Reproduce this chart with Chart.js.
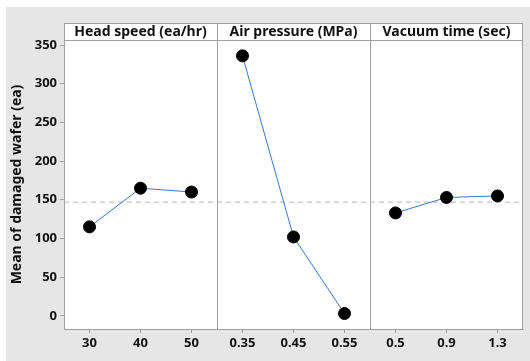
<!DOCTYPE html>
<html>
<head>
<meta charset="utf-8">
<script src="https://cdn.jsdelivr.net/npm/chart.js@4"></script>
<style>
	body { margin: 0; background: #fff; }
	.box { position: absolute; left: 6px; top: 7px; width: 524px; height: 354px; background: #e6e6e6; }
</style>
</head>
<body>
<div class="box"><canvas id="myChart" width="524" height="354"></canvas></div>
<script>
// main effects data
const factors = ['Head speed (ea/hr)', 'Air pressure (MPa)', 'Vacuum time (sec)'];
const headSpeedLevels = ['30', '40', '50'];
const headSpeedMeans = [115, 165, 160];
const airPressureLevels = ['0.35', '0.45', '0.55'];
const airPressureMeans = [336, 102, 3];
const vacuumLevels = ['0.5', '0.9', '1.3'];
const vacuumMeans = [133, 153, 155];
const overallMean = 147;
const yTicks = [0, 50, 100, 150, 200, 250, 300, 350];

const levels = [headSpeedLevels, airPressureLevels, vacuumLevels];
const means = [headSpeedMeans, airPressureMeans, vacuumMeans];
const tickLabels = [].concat(...levels);

const font = { family: 'Noto Sans', size: 13, weight: 'bold' };
const frameColor = '#a0a0a0';

const datasets = means.map((vals, p) => ({
	data: vals.map((v, i) => ({ x: p * 3 + i + 0.5, y: v })),
	borderColor: '#3c78c8',
	borderWidth: 1,
	pointRadius: 6,
	pointBackgroundColor: '#000',
	pointBorderColor: '#000',
	order: 1
}));
datasets.push({
	data: [{ x: 0, y: overallMean }, { x: 9, y: overallMean }],
	borderColor: '#b4b4b4',
	borderWidth: 1,
	borderDash: [5, 4],
	pointRadius: 0,
	order: 2
});

const panels = {
	id: 'panels',
	beforeDraw(chart) {
		const { ctx, chartArea: a } = chart;
		ctx.save();
		ctx.fillStyle = '#fff';
		ctx.fillRect(a.left, a.top - 17, a.right - a.left, a.bottom - a.top + 17);
		ctx.restore();
	},
	beforeDatasetsDraw(chart) {
		const { ctx, chartArea: a, scales: { x } } = chart;
		ctx.save();
		ctx.strokeStyle = frameColor;
		ctx.lineWidth = 1;
		ctx.beginPath();
		ctx.moveTo(a.left, a.top - 17 + 0.5);
		ctx.lineTo(a.right, a.top - 17 + 0.5);
		ctx.moveTo(a.left, a.top + 0.5);
		ctx.lineTo(a.right, a.top + 0.5);
		ctx.moveTo(a.right - 0.5, a.top - 17);
		ctx.lineTo(a.right - 0.5, a.bottom);
		ctx.moveTo(a.left + 0.5, a.top - 17);
		ctx.lineTo(a.left + 0.5, a.top);
		[3, 6].forEach(v => {
			const px = Math.round(x.getPixelForValue(v)) + 0.5;
			ctx.moveTo(px, a.top - 17);
			ctx.lineTo(px, a.bottom);
		});
		ctx.stroke();
		ctx.fillStyle = '#111';
		ctx.font = 'bold 14px "Noto Sans"';
		ctx.textAlign = 'center';
		ctx.textBaseline = 'middle';
		factors.forEach((f, p) => {
			ctx.fillText(f, x.getPixelForValue(p * 3 + 1.5), a.top - 8);
		});
		ctx.restore();
	}
};

new Chart(document.getElementById('myChart'), {
	type: 'line',
	data: { datasets: datasets },
	options: {
		responsive: false,
		animation: false,
		layout: { padding: { top: 33, right: 5, left: 0, bottom: 0 } },
		plugins: { legend: { display: false }, tooltip: { enabled: false } },
		scales: {
			x: {
				type: 'linear',
				min: 0,
				max: 9,
				afterBuildTicks: s => { s.ticks = tickLabels.map((t, i) => ({ value: i + 0.5 })); },
				afterFit: s => { s.height = 32; },
				ticks: {
					color: '#111',
					font: font,
					padding: 2,
					autoSkip: false,
					maxRotation: 0,
					callback: (v, i) => tickLabels[i]
				},
				grid: { drawOnChartArea: false, drawTicks: true, tickLength: 4, color: frameColor },
				border: { color: frameColor }
			},
			y: {
				min: -17,
				max: 356.5,
				afterBuildTicks: s => { s.ticks = yTicks.map(v => ({ value: v })); },
				afterFit: s => { s.width = 58; },
				ticks: { color: '#111', font: font, padding: 3 },
				grid: { drawOnChartArea: false, drawTicks: true, tickLength: 4, color: frameColor },
				border: { color: frameColor },
				title: {
					display: true,
					text: 'Mean of damaged wafer (ea)',
					color: '#111',
					font: { family: 'Noto Sans', size: 14, weight: 'bold' },
					padding: { top: 3, bottom: 0 }
				}
			}
		}
	},
	plugins: [panels]
});
</script>
</body>
</html>
